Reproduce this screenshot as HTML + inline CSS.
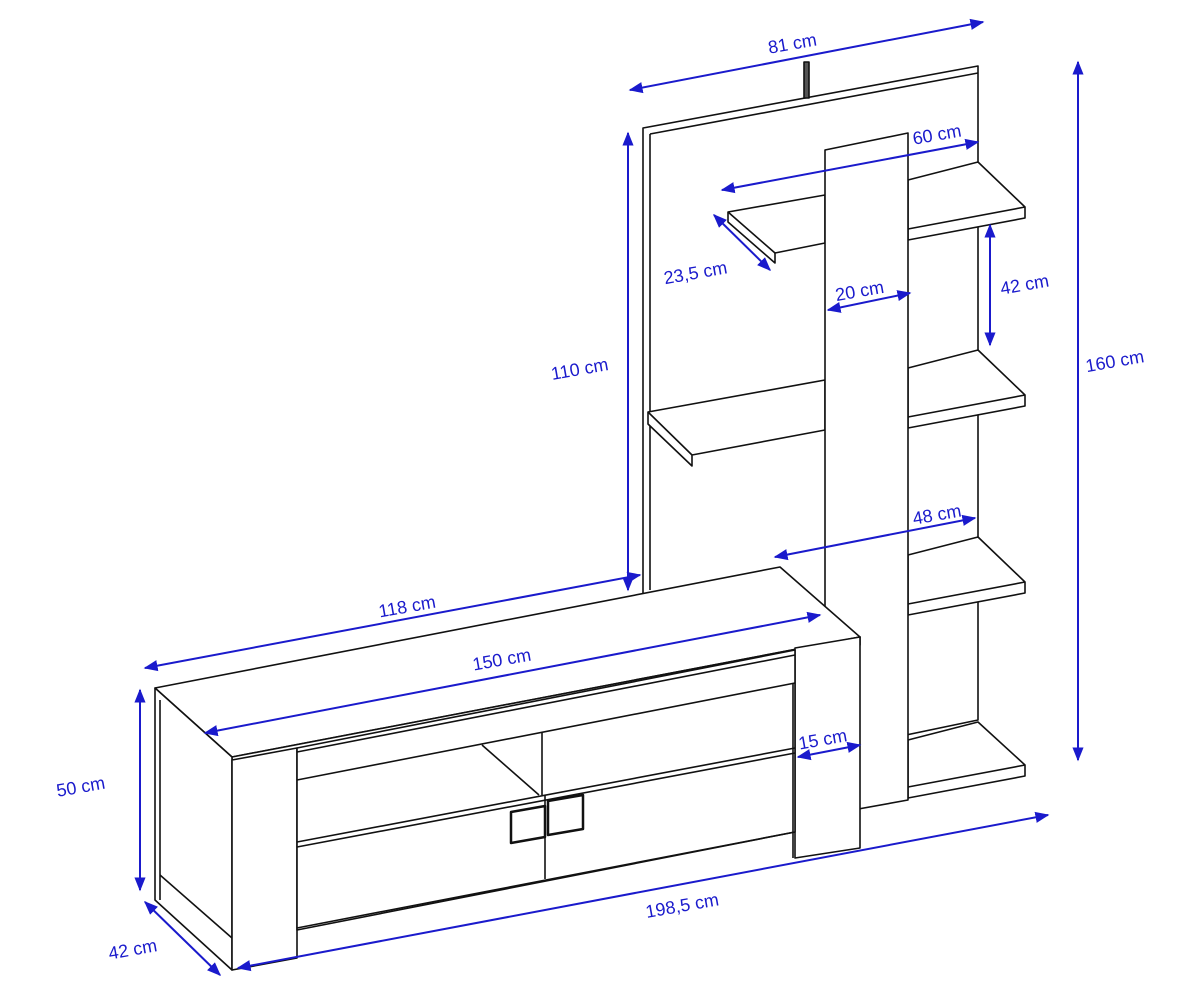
<!DOCTYPE html>
<html><head><meta charset="utf-8"><style>
html,body{margin:0;padding:0;background:#fff;width:1200px;height:1000px;overflow:hidden}
svg{display:block}
text{font-family:"Liberation Sans",sans-serif;font-size:18px;fill:#1a1acc}
</style></head><body>
<svg width="1200" height="1000" viewBox="0 0 1200 1000" xmlns="http://www.w3.org/2000/svg">
<defs>
<marker id="a" viewBox="0 0 10 10" refX="9" refY="5" markerWidth="7" markerHeight="7" orient="auto-start-reverse"><path d="M0,1 L10,5 L0,9 z" fill="#1a1acc"/></marker>
</defs>
<g fill="#fff" stroke="#111" stroke-width="1.6" stroke-linejoin="round">
<polygon points="643,128 978,66 978,720 643,790"/>
<polyline points="650,134 978,73" fill="none"/>
<line x1="650" y1="134" x2="650" y2="590"/>
<rect x="804" y="62" width="5" height="36" fill="#555"/>
<polygon points="908,180 978,162 1025,207 1025,218 908,240"/>
<line x1="908" y1="229" x2="1025" y2="207"/>
<polygon points="908,368 978,350 1025,395 1025,406 908,428"/>
<line x1="908" y1="417" x2="1025" y2="395"/>
<polygon points="908,555 978,537 1025,582 1025,593 908,615"/>
<line x1="908" y1="604" x2="1025" y2="582"/>
<polygon points="908,740 978,722 1025,765 1025,776 908,798"/>
<line x1="908" y1="787" x2="1025" y2="765"/>
<polygon points="728,212 825,195 825,243 775,253 775,263 728,222"/>
<line x1="728" y1="212" x2="775" y2="253"/>
<polygon points="648,412 825,380 825,430 692,455 692,466 648,424"/>
<line x1="648" y1="412" x2="692" y2="455"/>
<polygon points="825,150 908,133 908,800 825,815"/>
<polygon points="155,688 780,567 860,637 232,757"/>
<polygon points="232,757 860,637 860,645 232,765"/>
<line x1="162" y1="695" x2="232" y2="762"/>
<polygon points="155,688 232,757 232,970 155,900"/>
<line x1="160" y1="700" x2="160" y2="900"/>
<line x1="160" y1="875" x2="232" y2="938"/>
<polygon points="232,760 297,748 297,958 232,970"/>
<polygon points="795,648 860,637 860,848 795,858"/>
<polygon points="297,748 795,650 795,832 297,930"/>
<line x1="297" y1="752" x2="795" y2="655"/>
<line x1="297" y1="780" x2="795" y2="683"/>
<line x1="793" y1="683" x2="793" y2="858"/>
<line x1="297" y1="842" x2="795" y2="748"/>
<line x1="297" y1="847" x2="795" y2="753"/>
<line x1="297" y1="928" x2="795" y2="832"/>
<line x1="482" y1="745" x2="539" y2="795"/>
<line x1="542" y1="733" x2="542" y2="795"/>
<line x1="545" y1="795" x2="545" y2="879"/>
<polygon points="511,812 545,806 545,837 511,843" stroke-width="2.5"/>
<polygon points="548,801 583,795 583,829 548,835" stroke-width="2.5"/>
</g>
<g stroke="#1a1acc" stroke-width="2" fill="none" marker-start="url(#a)" marker-end="url(#a)">
<line x1="630" y1="90" x2="983" y2="22"/>
<line x1="1078" y1="62" x2="1078" y2="760"/>
<line x1="628" y1="133" x2="628" y2="590"/>
<line x1="722" y1="190" x2="978" y2="142"/>
<line x1="714" y1="215" x2="770" y2="270"/>
<line x1="828" y1="310" x2="910" y2="293"/>
<line x1="990" y1="225" x2="990" y2="345"/>
<line x1="775" y1="557" x2="975" y2="518"/>
<line x1="145" y1="668" x2="640" y2="575"/>
<line x1="205" y1="733" x2="820" y2="615"/>
<line x1="798" y1="757" x2="860" y2="745"/>
<line x1="140" y1="690" x2="140" y2="890"/>
<line x1="145" y1="902" x2="220" y2="975"/>
<line x1="238" y1="968" x2="1048" y2="815"/>
</g>
<text x="768" y="50" transform="rotate(-10 790 45)">81 cm</text>
<text x="1085" y="368" transform="rotate(-10 1110 360)">160 cm</text>
<text x="551" y="375" transform="rotate(-10 580 370)">110 cm</text>
<text x="912" y="140" transform="rotate(-10 940 132)">60 cm</text>
<text x="663" y="278" transform="rotate(-10 700 270)">23,5 cm</text>
<text x="835" y="296" transform="rotate(-10 865 290)">20 cm</text>
<text x="1000" y="290" transform="rotate(-10 1028 284)">42 cm</text>
<text x="912" y="520" transform="rotate(-10 940 512)">48 cm</text>
<text x="378" y="612" transform="rotate(-10 410 605)">118 cm</text>
<text x="472" y="665" transform="rotate(-10 505 658)">150 cm</text>
<text x="798" y="745" transform="rotate(-10 825 738)">15 cm</text>
<text x="56" y="792" transform="rotate(-10 85 785)">50 cm</text>
<text x="108" y="955" transform="rotate(-10 135 948)">42 cm</text>
<text x="645" y="912" transform="rotate(-10 680 905)">198,5 cm</text>
</svg>
</body></html>
